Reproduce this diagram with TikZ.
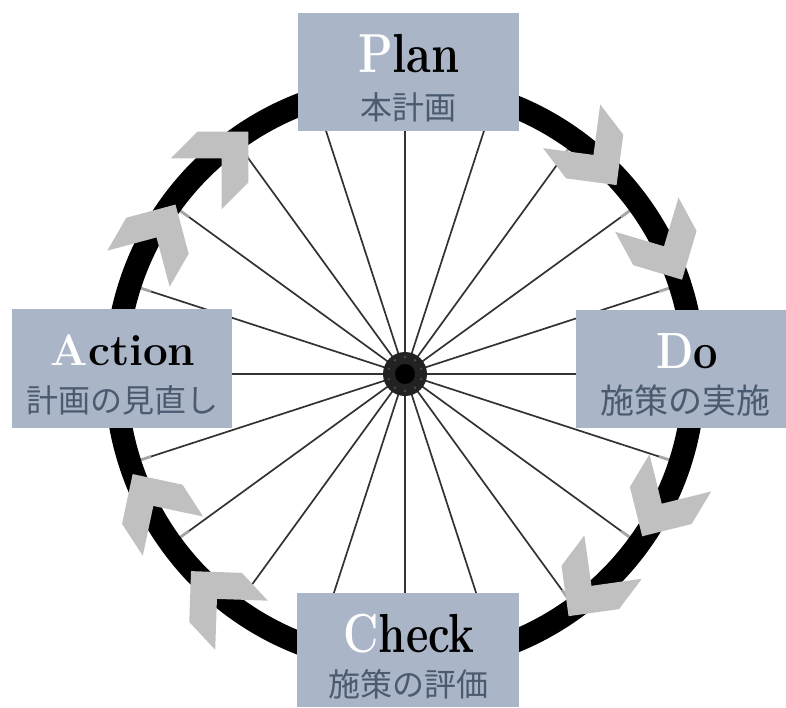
\documentclass[tikz,border=0pt]{standalone}
\usepackage{fontspec}
\usepackage{graphicx}
\usetikzlibrary{calc}
\newfontfamily\jpfont{Noto Sans CJK JP}
\definecolor{boxfill}{RGB}{170,181,199}
\definecolor{jptext}{RGB}{74,90,112}
\definecolor{chev}{RGB}{192,192,192}
\definecolor{spokec}{RGB}{50,50,50}
\definecolor{hubc}{RGB}{34,34,34}
\tikzset{
  boxstyle/.style={fill=boxfill, draw=none, inner sep=0pt, anchor=north west},
  titlestyle/.style={inner sep=0pt, anchor=base, text=black, font=\bfseries},
  jpstyle/.style={inner sep=0pt, anchor=center, text=jptext, font=\jpfont\fontsize{32}{34}\selectfont},
  spokestyle/.style={draw=spokec, line width=1.7pt},
  nipple/.style={draw=gray!70, line width=2.8pt},
  chevstyle/.style={fill=chev, draw=none}
}
\begin{document}
\begin{tikzpicture}[x=1pt,y=-1pt]
\useasboundingbox (0,0) rectangle (786,707);
\coordinate (c) at (405,374);
% spokes
\foreach \a in {0,18,...,342} {
  \draw[spokestyle] (c) -- ++(\a:278);
  \draw[nipple] ($(c)+(\a:267)$) -- ($(c)+(\a:279)$);
}
% ring
\draw[line width=23pt, black] (c) circle (289);
% hub
\fill[hubc] (c) circle (22);
\fill[black] (c) circle (10);
\foreach \a in {0,36,...,324} {
  \fill[gray!60!black] ($(c)+(\a+18:17)$) circle (1.3);
}
% chevrons
\foreach \px/\py/\r in {605/170/-52.6, 673/263/-61.6, 652/520/-121, 580/601/-127, 143/490/123, 204/585/133, 166/221/60, 235/145/45} {
  \fill[chevstyle, shift={(\px,\py)}, rotate=\r]
    (19,0) -- (-17,36) -- (-55,36) -- (-19,0) -- (-55,-36) -- (-17,-36) -- cycle;
}
% boxes
\node[boxstyle, minimum width=221pt, minimum height=118pt] (planbox) at (298,13) {};
\node[boxstyle, minimum width=210pt, minimum height=118pt] (dobox) at (576,310) {};
\node[boxstyle, minimum width=222pt, minimum height=114pt] (checkbox) at (297,593) {};
\node[boxstyle, minimum width=220pt, minimum height=119pt] (actionbox) at (12,309) {};
% titles
\node[titlestyle, font=\bfseries\fontsize{55}{55}\selectfont] (plant) at (409,72) {\scalebox{0.82}[1]{{\color{white}P}lan}};
\node[titlestyle, font=\bfseries\fontsize{51}{51}\selectfont] (dot) at (687,368) {\scalebox{0.85}[1]{{\color{white}D}o}};
\node[titlestyle, font=\bfseries\fontsize{55}{55}\selectfont] (checkt) at (409,652) {\scalebox{0.79}[1]{{\color{white}C}heck}};
\node[titlestyle, font=\bfseries\fontsize{44}{44}\selectfont] (actiont) at (123,365) {{\color{white}A}ction};
% japanese
\node[jpstyle] (planj) at (408,107) {本計画};
\node[jpstyle, font=\jpfont\fontsize{34}{36}\selectfont] (doj) at (685,401) {施策の実施};
\node[jpstyle] (checkj) at (408,684) {施策の評価};
\node[jpstyle] (actionj) at (122,400) {計画の見直し};
\end{tikzpicture}
\end{document}
